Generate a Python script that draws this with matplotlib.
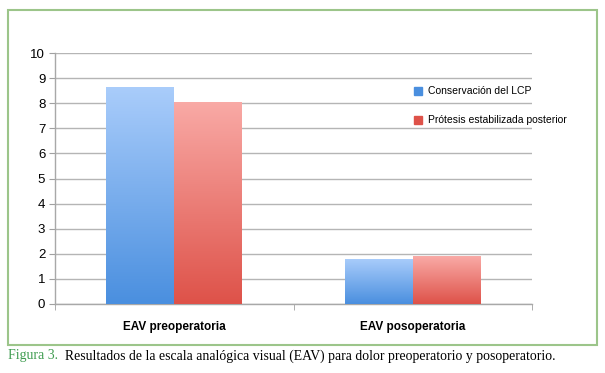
import matplotlib
matplotlib.use("Agg")
import matplotlib.pyplot as plt
import numpy as np
from matplotlib.colors import LinearSegmentedColormap
from matplotlib.patches import Rectangle

categorias = ["EAV preoperatoria", "EAV posoperatoria"]
series = ["Conservación del LCP", "Prótesis estabilizada posterior"]
conservacion = [8.65, 1.8]
protesis = [8.05, 1.9]
yticks = list(range(0, 11))

fig = plt.figure(figsize=(6.05, 3.73), dpi=100)
ax = fig.add_axes([55 / 605, 1 - 304 / 373, (532 - 55) / 605, (304 - 53) / 373])

# gradient colours (top -> bottom)
grad = {
    "blue": ("#aacdfb", "#4a8fdf"),
    "red": ("#f9aaa6", "#de5249"),
}

x = np.arange(len(categorias))
w = 0.285
b1 = ax.bar(x - w / 2, conservacion, w, color=grad["blue"][1], label=series[0], zorder=2)
b2 = ax.bar(x + w / 2, protesis, w, color=grad["red"][1], label=series[1], zorder=2)

# paint vertical gradients inside each bar
for bars, key in ((b1, "blue"), (b2, "red")):
    cmap = LinearSegmentedColormap.from_list(key, [grad[key][1], grad[key][0]])
    for bar in bars:
        x0, y0 = bar.get_x(), bar.get_y()
        x1, y1 = x0 + bar.get_width(), y0 + bar.get_height()
        img = ax.imshow(np.linspace(0, 1, 256).reshape(-1, 1), cmap=cmap, origin="lower",
                        extent=[x0, x1, y0, y1], aspect="auto", zorder=3)
        img.set_clip_path(bar)

ax.set_xlim(-0.5, 1.5)
ax.set_ylim(0, 10)
ax.set_yticks(yticks)
ax.set_yticklabels([str(t) for t in yticks], fontsize=9.5, family="Liberation Sans")
ax.yaxis.grid(True, color="#b5b5b5", linewidth=1.0, zorder=0)
ax.set_axisbelow(True)

ax.set_xticks(x)
ax.set_xticklabels(categorias, fontsize=8.5, fontweight="bold", family="Liberation Sans")
ax.set_xticks([-0.5, 0.5, 1.5], minor=True)
ax.tick_params(axis="x", which="major", length=0, pad=12)
ax.tick_params(axis="x", which="minor", length=4, color="#a0a0a0", direction="out")
ax.tick_params(axis="y", length=4, color="#a0a0a0", pad=3)

for s in ["top", "right"]:
    ax.spines[s].set_visible(False)
for s in ["left", "bottom"]:
    ax.spines[s].set_color("#a8a8a8")
    ax.spines[s].set_linewidth(1.0)

leg = ax.legend(loc="upper left", bbox_to_anchor=(0.732, 0.905), frameon=False,
                prop={"family": "Liberation Sans", "size": 7.5},
                handlelength=0.8, handleheight=0.8, handletextpad=0.6, labelspacing=1.85)
leg.legend_handles[0].set_color(grad["blue"][1])
leg.legend_handles[1].set_color(grad["red"][1])

# green frame around the chart
fig.patches.append(Rectangle((8 / 605, 1 - 345 / 373), 589 / 605, 335 / 373,
                             transform=fig.transFigure, fill=False,
                             edgecolor="#9cc58a", linewidth=1.5))

fig.text(8 / 605, 1 - 356 / 373, "Figura 3.", color="#3f9c50", fontsize=10,
         family="Liberation Serif", va="center")
fig.text(65 / 605, 1 - 356 / 373,
         "Resultados de la escala analógica visual (EAV) para dolor preoperatorio y posoperatorio.",
         color="black", fontsize=9.9, family="Liberation Serif", va="center")

fig.savefig("out.png", dpi=100)
